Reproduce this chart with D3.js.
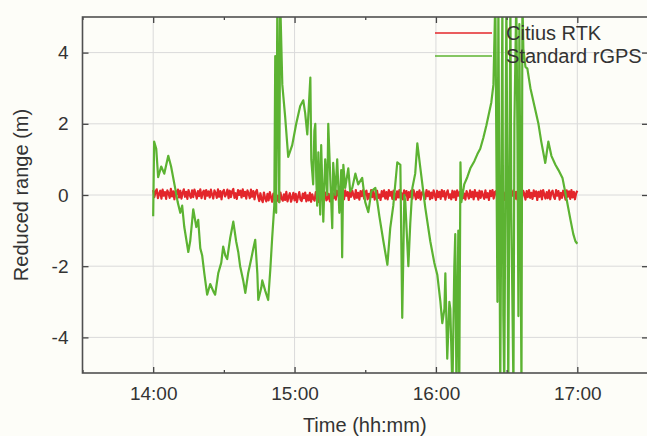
<!DOCTYPE html>
<html><head><meta charset="utf-8">
<script src="https://cdn.jsdelivr.net/npm/d3@7"></script>
<style>body{margin:0;background:#fdfdf8}svg{display:block}</style>
</head><body><svg id="c" width="647" height="436"></svg>
<script>
const seriesNames = ["Citius RTK", "Standard rGPS"];
const xTickMinutes = [0, 60, 120, 180];
const xTickLabels = ["14:00", "15:00", "16:00", "17:00"];
const xMinorMinutes = [-30, 30, 90, 150, 210];
const yTicks = [-4, -2, 0, 2, 4];
const yTickLabels = ["-4", "-2", "0", "2", "4"];
const xTitle = "Time (hh:mm)";
const yTitle = "Reduced range (m)";

// Citius RTK: one value every half minute from 14:00 to 17:00
const rtkValues = [
  0.14,-0.06,0.09,0.16,-0.09,0.03,0.12,-0.10,0.15,-0.02,
  0.08,-0.11,0.13,0.05,-0.08,0.17,-0.04,0.10,-0.12,0.11,
  0.02,0.15,-0.07,0.12,-0.10,0.06,0.16,-0.05,0.09,-0.11,
  0.14,0.00,-0.08,0.13,-0.06,0.15,0.04,-0.10,0.11,-0.03,
  0.16,-0.09,0.07,0.12,-0.11,0.14,-0.02,0.10,-0.07,0.15,
  0.01,-0.10,0.13,0.06,-0.08,0.16,-0.05,0.11,-0.12,0.09,
  0.14,-0.04,0.03,0.15,-0.09,0.12,-0.06,0.10,0.17,-0.08,
  0.05,-0.11,0.14,0.00,0.12,-0.07,0.16,-0.03,0.09,-0.10,
  0.13,0.04,-0.09,0.15,-0.05,0.11,-0.12,0.08,0.14,-0.04,
  -0.17,0.05,-0.12,-0.20,0.07,-0.09,-0.18,0.03,-0.15,0.08,
  -0.06,-0.19,0.04,-0.13,0.06,-0.17,-0.02,-0.20,0.07,-0.10,
  -0.16,0.02,-0.14,0.09,-0.18,-0.05,0.05,-0.19,-0.08,0.06,
  -0.15,0.03,-0.20,-0.04,0.08,-0.13,-0.17,0.04,-0.09,0.07,
  -0.18,-0.01,-0.15,0.06,-0.19,0.02,-0.11,-0.16,0.08,-0.07,
  -0.20,0.04,-0.13,0.05,-0.17,-0.03,0.07,-0.15,-0.10,0.03,
  -0.18,-0.06,
  0.11,-0.09,0.04,-0.13,0.12,0.02,-0.10,0.14,-0.06,0.09,
  -0.12,0.13,-0.02,0.08,-0.14,0.10,-0.05,0.12,0.00,-0.11,
  0.14,-0.08,0.06,-0.13,0.11,-0.03,0.13,-0.10,0.07,0.12,
  -0.12,0.03,-0.09,0.14,-0.06,0.10,-0.13,0.05,0.12,-0.08,
  0.01,-0.14,0.11,-0.04,0.13,-0.10,0.08,-0.12,0.14,-0.02,
  0.09,-0.11,0.12,0.03,-0.13,0.10,-0.07,0.14,-0.09,0.05,
  -0.12,0.13,-0.01,0.11,-0.14,0.08,-0.06,0.12,-0.10,0.14,
  0.02,-0.12,0.09,-0.08,0.13,-0.13,0.06,0.11,-0.05,-0.11,
  0.14,-0.03,0.10,-0.12,0.07,-0.09,0.13,0.00,-0.14,0.12,
  -0.06,0.09,-0.11,0.14,-0.04,0.11,-0.13,0.05,0.13,-0.08,
  0.02,-0.12,0.12,-0.07,0.10,-0.14,0.13,-0.02,0.08,-0.11,
  0.14,-0.09,0.04,-0.13,0.11,0.01,-0.10,0.13,-0.06,0.09,
  -0.12,0.14,-0.04,0.07,-0.13,0.12,-0.08,0.10,-0.01,-0.11,
  0.13,-0.07,0.05,-0.14,0.12,-0.03,0.14,-0.10,0.08,0.11,
  -0.12,0.02,-0.09,0.13,-0.05,0.10,-0.14,0.06,0.12,-0.07,
  0.03,-0.13,0.11,-0.02,0.14,-0.11,0.09,-0.12,0.13,-0.04,
  0.08,-0.10,0.12,0.04,-0.13,0.11,-0.06,0.14,-0.08,0.06,
  -0.11,0.13,-0.03,0.10,-0.14,0.09,-0.05,0.12,-0.12,0.14,
  0.01,-0.10,0.08,-0.09,0.13,-0.12,0.07,0.12,-0.04,-0.11,
  0.14,-0.02,0.11,-0.13,0.06,-0.08,0.12,0.03,-0.13,0.13,
  -0.05,0.10,-0.11,0.14,-0.07,0.09,-0.12,0.05,0.12
];

// Standard rGPS: minutes after 14:00 and values (m)
const gpsMinutes = [
  0,0.4,1.3,2.1,3.4,4.7,6.4,7.6,9.3,10.4,11.5,12.3,13.2,14.9,15.7,17.0,18.3,19.1,20.0,20.8,21.7,22.9,24.2,25.5,
  26.3,27.6,28.9,29.7,30.6,31.4,32.7,34.0,35.2,36.1,36.9,38.2,39.1,40.3,41.6,42.5,43.3,44.2,44.6,45.9,46.3,
  47.6,48.8,49.7,50.5,51.4,51.8,52.2,52.7,53.5,53.9,54.8,56.0,57.3,59.0,60.7,62.4,63.7,64.5,65.4,66.7,
  67.1,67.9,68.4,68.8,69.2,69.6,70.1,70.9,71.3,72.2,73.0,73.9,74.3,75.2,76.0,76.4,77.3,78.1,79.0,79.8,
  80.2,80.7,81.5,82.8,83.6,84.5,85.8,87.0,88.7,90.0,91.3,92.6,94.3,96.0,97.7,99.4,100.6,101.9,103.6,104.9,
  105.7,106.6,107.0,108.3,109.1,110.0,111.2,112.1,113.4,115.5,117.6,119.3,120.6,121.9,122.7,123.6,124.0,124.8,125.7,126.1,
  127.0,127.8,128.2,128.7,129.5,129.9,130.4,130.8,132.0,133.3,134.6,136.3,137.6,138.8,140.1,141.4,142.7,143.5,144.4,145.2,
  146.1,146.5,147.3,148.2,148.6,149.0,149.9,150.3,150.7,151.6,152.0,152.9,153.3,154.1,154.6,155.0,155.4,156.3,156.7,157.1,
  158.0,158.8,160.1,161.8,163.5,164.7,166.4,167.7,169.0,170.7,172.0,173.7,175.4,177.1,178.3,179.2,180.0
];
const gpsValues = [
  -0.6,1.5,1.3,0.5,0.8,0.6,1.1,0.8,0.2,-0.2,-0.5,-0.3,-0.9,-1.6,-1.3,-0.4,-0.9,-0.7,-1.5,-1.7,-2.2,-2.8,-2.5,-2.7,
  -2.8,-2.2,-1.9,-1.45,-1.7,-1.8,-1.2,-0.75,-1.3,-1.6,-2.0,-2.4,-2.75,-2.2,-1.8,-1.5,-1.26,-2.2,-2.95,-2.6,-2.4,
  -2.7,-2.95,-2.1,-1.2,-0.3,3.9,-0.5,5.5,-0.2,5.5,3.1,2.2,1.07,1.4,2.0,2.5,2.66,2.3,1.7,3.3,
  1.0,0.3,1.8,2.0,0.5,-0.3,1.2,-0.55,1.4,-0.75,1.0,0.0,2.0,0.4,-0.93,0.9,0.0,1.0,-0.5,0.7,
  -1.75,0.85,0.2,0.75,0.1,0.2,0.6,0.3,0.48,-0.2,-0.48,0.1,0.2,-0.6,-1.3,-1.96,-0.93,-0.3,0.92,0.85,
  -3.45,0.0,-0.2,-2.0,-0.8,0.2,0.6,1.45,0.75,-0.37,-1.3,-1.9,-2.25,-3.0,-3.6,-3.2,-2.2,-4.6,-3.0,-3.2,
  -5.5,-2.0,-1.1,-5.5,-1.0,-5.5,0.92,-0.2,0.3,0.5,0.75,0.95,1.15,1.3,1.6,1.95,2.35,2.6,3.1,5.5,
  -3.0,5.5,-5.5,5.5,-3.4,-5.5,5.5,0.5,-5.5,5.5,-0.5,-5.5,2.0,5.5,1.5,-3.4,4.8,-5.5,5.5,4.1,
  3.6,3.55,3.0,2.5,2.0,1.5,0.9,1.5,1.1,0.85,0.7,0.48,-0.1,-0.7,-1.1,-1.3,-1.37
];

const colors = ["#e3262b", "#5cb332"];
const W = 647, H = 436;
const L = 82.5, R = 648, T = 17, B = 373;
const svg = d3.select("#c");
svg.append("rect").attr("width", W).attr("height", H).attr("fill", "#fdfdf8");

const x = d3.scaleLinear().domain([-30, 210]).range([L, R]);
const y = d3.scaleLinear().domain([-5, 5]).range([B, T]);
const font = "Liberation Sans, Arial, Helvetica, sans-serif";
const ink = "#333333";

// grid
const g = svg.append("g");
g.selectAll("line.gx").data(xTickMinutes).join("line")
  .attr("x1", d => x(d)).attr("x2", d => x(d)).attr("y1", T).attr("y2", B)
  .attr("stroke", "#dadada").attr("stroke-width", 1);
g.selectAll("line.gy").data(yTicks).join("line")
  .attr("y1", d => y(d)).attr("y2", d => y(d)).attr("x1", L).attr("x2", R)
  .attr("stroke", "#dadada").attr("stroke-width", 1);

// data
svg.append("clipPath").attr("id", "clip").append("rect")
  .attr("x", L).attr("y", T).attr("width", R - L).attr("height", B - T);
const plot = svg.append("g").attr("clip-path", "url(#clip)");
const rtk = rtkValues.map((v, i) => [i / 2, v]);
const gps = gpsMinutes.map((m, i) => [m, gpsValues[i]]);
const line = d3.line().x(d => x(d[0])).y(d => y(d[1]));
plot.append("path").datum(rtk).attr("d", line).attr("fill", "none")
  .attr("stroke", colors[0]).attr("stroke-width", 2.2).attr("stroke-linejoin", "round");
plot.append("path").datum(gps).attr("d", line).attr("fill", "none")
  .attr("stroke", colors[1]).attr("stroke-width", 2.2).attr("stroke-linejoin", "round");

// axes (ticks inward)
const axB = d3.axisBottom(x).tickValues(xTickMinutes).tickFormat((d, i) => xTickLabels[i]).tickSizeInner(-6).tickSizeOuter(0).tickPadding(14);
const gB = svg.append("g").attr("transform", `translate(0,${B})`).call(axB);
const axT = d3.axisTop(x).tickValues(xTickMinutes).tickFormat("").tickSizeInner(-6).tickSizeOuter(0);
const gT = svg.append("g").attr("transform", `translate(0,${T})`).call(axT);
const axL = d3.axisLeft(y).tickValues(yTicks).tickFormat((d, i) => yTickLabels[i]).tickSizeInner(-6).tickSizeOuter(0).tickPadding(14);
const gL = svg.append("g").attr("transform", `translate(${L},0)`).call(axL);
const axR = d3.axisRight(y).tickValues(yTicks).tickFormat("").tickSizeInner(-6).tickSizeOuter(0);
const gR = svg.append("g").attr("transform", `translate(${R},0)`).call(axR);
const mB = svg.append("g").attr("transform", `translate(0,${B})`)
  .call(d3.axisBottom(x).tickValues(xMinorMinutes).tickFormat("").tickSizeInner(-3).tickSizeOuter(0));
const mT = svg.append("g").attr("transform", `translate(0,${T})`)
  .call(d3.axisTop(x).tickValues(xMinorMinutes).tickFormat("").tickSizeInner(-3).tickSizeOuter(0));
[gB, gT, gL, gR, mB, mT].forEach(a => {
  a.select(".domain").remove();
  a.selectAll(".tick line").attr("stroke", "#444").attr("stroke-width", 1.3);
  a.selectAll(".tick text").attr("fill", ink).style("font-family", font).style("font-size", "19px");
});

// frame
svg.append("rect").attr("x", L).attr("y", T).attr("width", R - L).attr("height", B - T)
  .attr("fill", "none").attr("stroke", "#505050").attr("stroke-width", 1.6);

// titles
svg.append("text").attr("x", (L + 647) / 2).attr("y", 432).attr("text-anchor", "middle")
  .attr("fill", ink).style("font-family", font).style("font-size", "20px").text(xTitle);
svg.append("text").attr("transform", `translate(28,${(T + B) / 2}) rotate(-90)`).attr("text-anchor", "middle")
  .attr("fill", ink).style("font-family", font).style("font-size", "20px").text(yTitle);

// legend
const leg = svg.append("g");
seriesNames.forEach((n, i) => {
  const yy = 33 + i * 23;
  leg.append("line").attr("x1", 435).attr("x2", 492).attr("y1", yy).attr("y2", yy)
    .attr("stroke", colors[i]).attr("stroke-width", 1.6);
  leg.append("text").attr("x", 506).attr("y", yy + 7).attr("fill", ink)
    .style("font-family", font).style("font-size", "20px").text(n);
});
</script></body></html>
